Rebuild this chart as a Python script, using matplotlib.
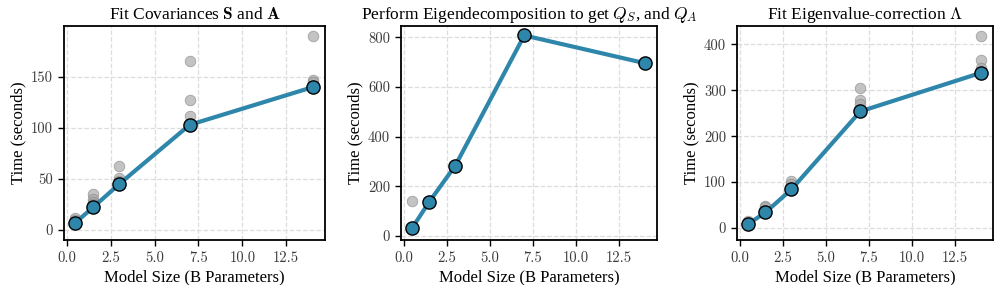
import matplotlib

matplotlib.use("Agg")

import matplotlib.pyplot as plt

# model sizes (billions of parameters)
sizes = [0.5, 1.5, 3, 7, 14]

# panel 1: fit covariances
cov_best = [7, 22, 45, 103, 140]
cov_runs_x = [0.5, 0.5, 1.5, 1.5, 1.5, 1.5, 3, 3, 3, 7, 7, 7, 14, 14, 14]
cov_runs_y = [12, 10, 35, 30, 27, 25, 63, 51, 48, 166, 127, 112, 190, 147, 145]

# panel 2: eigendecomposition
eig_best = [32, 138, 283, 808, 696]
eig_runs_x = [0.5, 0.5, 1.5, 3, 7, 14]
eig_runs_y = [140, 34, 140, 285, 810, 698]

# panel 3: eigenvalue correction
corr_best = [9, 34, 84, 254, 338]
corr_runs_x = [0.5, 0.5, 1.5, 1.5, 3, 3, 7, 7, 7, 14, 14, 14]
corr_runs_y = [16, 12, 49, 45, 103, 95, 304, 278, 270, 419, 367, 348]

titles = [
    r"Fit Covariances $\mathbf{S}$ and $\mathbf{A}$",
    r"Perform Eigendecomposition to get $Q_S$, and $Q_A$",
    r"Fit Eigenvalue-correction $\Lambda$",
]
xticks = [0.0, 2.5, 5.0, 7.5, 10.0, 12.5]
xtick_labels = ["0.0", "2.5", "5.0", "7.5", "10.0", "12.5"]
ylims = [(-10, 200), (-17, 846), (-26, 440)]
yticks = [[0, 50, 100, 150], [0, 200, 400, 600, 800], [0, 100, 200, 300, 400]]

plt.rcParams.update(
    {
        "font.family": "serif",
        "font.serif": ["Liberation Serif", "DejaVu Serif"],
        "mathtext.fontset": "cm",
        "axes.unicode_minus": False,
        "font.size": 12,
    }
)

BLUE = "#2E86AB"
TICK_FONT = "cmr10"

fig, axes = plt.subplots(1, 3, figsize=(9.96, 2.85), dpi=100)
# axes boxes in figure fractions
boxes = [
    (64 / 996, 45 / 285, 261 / 996, 214 / 285),
    (401 / 996, 45 / 285, 256 / 996, 214 / 285),
    (737 / 996, 45 / 285, 256 / 996, 214 / 285),
]

panels = [
    (cov_runs_x, cov_runs_y, cov_best),
    (eig_runs_x, eig_runs_y, eig_best),
    (corr_runs_x, corr_runs_y, corr_best),
]

for i, (ax, (rx, ry, best)) in enumerate(zip(axes, panels)):
    ax.set_position(boxes[i])
    ax.scatter(rx, ry, s=58, color="#aaaaaa", edgecolor="#888888",
               linewidth=0.6, alpha=0.7, zorder=2)
    ax.plot(sizes, best, color=BLUE, linewidth=3.0, marker="o",
            markersize=9.5, markerfacecolor=BLUE, markeredgecolor="black",
            markeredgewidth=1.0, zorder=3)
    ax.set_title(titles[i], fontsize=12.5, pad=5)
    ax.set_xlabel("Model Size (B Parameters)", fontsize=12, labelpad=3)
    ax.set_ylabel("Time (seconds)", fontsize=12, labelpad=3)
    ax.set_xticks(xticks)
    ax.set_xticklabels(xtick_labels, fontfamily=TICK_FONT, fontsize=10.5)
    ax.set_xlim(-0.15, 14.7)
    ax.set_ylim(*ylims[i])
    ax.set_yticks(yticks[i])
    ax.set_yticklabels([str(v) for v in yticks[i]], fontfamily=TICK_FONT,
                       fontsize=10.5)
    ax.grid(True, linestyle="--", color="#dddddd", linewidth=0.9)
    ax.set_axisbelow(True)
    ax.tick_params(colors="black", length=4, width=1.0, pad=4)
    for lab in ax.get_xticklabels() + ax.get_yticklabels():
        lab.set_color("#3a3a3a")
    for sp in ax.spines.values():
        sp.set_linewidth(1.3)
        sp.set_color("black")

fig.savefig("out.png", dpi=100)
